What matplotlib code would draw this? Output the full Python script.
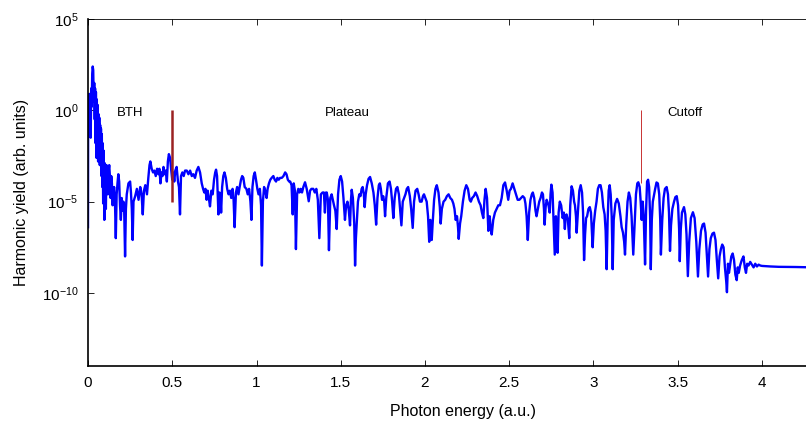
#!/usr/bin/env python

import numpy as np
import matplotlib
matplotlib.use('Agg')
import matplotlib.pyplot as plt

plt.rcParams['font.family'] = ['Liberation Sans', 'DejaVu Sans']
plt.rcParams['mathtext.fontset'] = 'custom'
plt.rcParams['mathtext.rm'] = 'Liberation Sans'
plt.rcParams['mathtext.default'] = 'regular'

# HHG spectrum: photon energy (a.u.) and log10 of the yield
energy = [
    0.000, 0.001, 0.004, 0.007, 0.010, 0.013, 0.016, 0.019, 0.022, 0.025, 0.028, 0.031, 0.034, 0.037,
    0.040, 0.042, 0.045, 0.047, 0.050, 0.052, 0.055, 0.057, 0.060, 0.062, 0.065, 0.067, 0.070, 0.072,
    0.075, 0.077, 0.080, 0.082, 0.085, 0.087, 0.090, 0.092, 0.095, 0.097, 0.100, 0.103, 0.106, 0.110,
    0.114, 0.118, 0.122, 0.126, 0.130, 0.134, 0.138, 0.142, 0.146, 0.150, 0.155, 0.160, 0.165, 0.170,
    0.175, 0.180, 0.185, 0.190, 0.195, 0.200, 0.205, 0.210, 0.215, 0.220, 0.225, 0.230, 0.240, 0.250,
    0.255, 0.260, 0.265, 0.270, 0.280, 0.290, 0.300, 0.310, 0.318, 0.325, 0.332, 0.340, 0.350, 0.358,
    0.365, 0.370, 0.378, 0.386, 0.394, 0.402, 0.410, 0.418, 0.424, 0.430, 0.436, 0.442, 0.448, 0.455,
    0.462, 0.468, 0.474, 0.480, 0.487, 0.493, 0.500, 0.506, 0.512, 0.518, 0.526, 0.534, 0.540, 0.546,
    0.552, 0.560, 0.568, 0.576, 0.586, 0.596, 0.606, 0.616, 0.625, 0.635, 0.645, 0.655, 0.665, 0.675,
    0.683, 0.690, 0.697, 0.704, 0.710, 0.717, 0.724, 0.732, 0.740, 0.748, 0.755, 0.760, 0.766, 0.774,
    0.780, 0.786, 0.790, 0.796, 0.803, 0.810, 0.818, 0.826, 0.834, 0.842, 0.850, 0.858, 0.864, 0.870,
    0.878, 0.885, 0.893, 0.900, 0.908, 0.915, 0.922, 0.930, 0.940, 0.948, 0.956, 0.964, 0.970, 0.976,
    0.983, 0.990, 0.997, 1.005, 1.012, 1.020, 1.027, 1.032, 1.038, 1.045, 1.052, 1.060, 1.066, 1.074,
    1.082, 1.090, 1.100, 1.108, 1.116, 1.124, 1.132, 1.140, 1.150, 1.160, 1.170, 1.178, 1.186, 1.194,
    1.200, 1.208, 1.215, 1.221, 1.228, 1.234, 1.241, 1.248, 1.255, 1.262, 1.270, 1.278, 1.288, 1.298,
    1.310, 1.318, 1.326, 1.337, 1.346, 1.355, 1.364, 1.373, 1.382, 1.392, 1.400, 1.406, 1.412, 1.417,
    1.424, 1.430, 1.438, 1.446, 1.453, 1.460, 1.468, 1.476, 1.484, 1.492, 1.500, 1.508, 1.516, 1.525,
    1.532, 1.540, 1.548, 1.555, 1.560, 1.565, 1.572, 1.580, 1.585, 1.590, 1.596, 1.602, 1.610, 1.617,
    1.624, 1.630, 1.637, 1.642, 1.648, 1.656, 1.665, 1.674, 1.684, 1.694, 1.702, 1.710, 1.718, 1.726,
    1.732, 1.738, 1.745, 1.752, 1.758, 1.763, 1.770, 1.780, 1.790, 1.798, 1.805, 1.812, 1.820, 1.828,
    1.836, 1.845, 1.852, 1.860, 1.868, 1.876, 1.884, 1.892, 1.900, 1.910, 1.918, 1.927, 1.935, 1.944,
    1.954, 1.962, 1.970, 1.980, 1.988, 1.994, 2.002, 2.010, 2.018, 2.025, 2.032, 2.040, 2.046, 2.054,
    2.062, 2.070, 2.080, 2.088, 2.093, 2.100, 2.110, 2.120, 2.130, 2.140, 2.150, 2.160, 2.168, 2.175,
    2.182, 2.190, 2.196, 2.200, 2.208, 2.215, 2.225, 2.235, 2.245, 2.255, 2.265, 2.272, 2.280, 2.290,
    2.300, 2.310, 2.320, 2.330, 2.338, 2.346, 2.353, 2.360, 2.368, 2.376, 2.384, 2.390, 2.396, 2.405,
    2.415, 2.425, 2.435, 2.445, 2.455, 2.465, 2.475, 2.485, 2.494, 2.502, 2.510, 2.520, 2.530, 2.540,
    2.550, 2.560, 2.570, 2.580, 2.590, 2.596, 2.603, 2.610, 2.618, 2.626, 2.634, 2.640, 2.648, 2.656,
    2.662, 2.670, 2.678, 2.686, 2.694, 2.700, 2.706, 2.710, 2.716, 2.722, 2.726, 2.733, 2.740, 2.745,
    2.750, 2.757, 2.763, 2.770, 2.777, 2.782, 2.787, 2.793, 2.800, 2.808, 2.817, 2.824, 2.830, 2.835,
    2.840, 2.848, 2.856, 2.862, 2.870, 2.878, 2.885, 2.890, 2.896, 2.900, 2.908, 2.916, 2.924, 2.932,
    2.938, 2.944, 2.950, 2.956, 2.962, 2.970, 2.978, 2.985, 2.990, 2.995, 3.002, 3.010, 3.018, 3.026,
    3.034, 3.042, 3.050, 3.058, 3.066, 3.072, 3.078, 3.084, 3.090, 3.096, 3.102, 3.108, 3.114, 3.120,
    3.130, 3.140, 3.150, 3.160, 3.167, 3.175, 3.182, 3.187, 3.194, 3.202, 3.210, 3.218, 3.226, 3.236,
    3.244, 3.252, 3.260, 3.266, 3.274, 3.280, 3.286, 3.292, 3.298, 3.306, 3.312, 3.318, 3.324, 3.330,
    3.336, 3.340, 3.346, 3.352, 3.358, 3.366, 3.374, 3.382, 3.390, 3.396, 3.400, 3.408, 3.416, 3.424,
    3.434, 3.442, 3.448, 3.454, 3.460, 3.468, 3.478, 3.486, 3.494, 3.502, 3.508, 3.512, 3.518, 3.525,
    3.537, 3.545, 3.552, 3.560, 3.568, 3.578, 3.590, 3.600, 3.610, 3.620, 3.628, 3.638, 3.648, 3.656,
    3.665, 3.672, 3.680, 3.688, 3.696, 3.706, 3.715, 3.724, 3.732, 3.740, 3.748, 3.756, 3.764, 3.772,
    3.780, 3.788, 3.792, 3.798, 3.804, 3.810, 3.818, 3.826, 3.834, 3.842, 3.850, 3.856, 3.862, 3.870,
    3.880, 3.890, 3.898, 3.905, 3.912, 3.920, 3.930, 3.940, 3.950, 3.960, 3.970, 3.980, 3.990, 4.000,
    4.050, 4.100, 4.200, 4.300,
]

log_yield = [
    -6.4, 0.7, -0.8, 0.9, -1.0, 0.3, -1.5, 1.2, 0.2, 2.0, 2.4, 2.2, 0.5, 1.5,
    -0.5, 1.2, -1.8, 1.0, -2.6, 0.6, -1.5, 0.3, -2.8, -0.2, -1.9, -0.4, -3.0, -0.8,
    -2.4, -1.0, -3.6, -1.3, -4.2, -1.8, -5.1, -2.2, -3.8, -6.0, -2.9, -3.4, -5.4, -3.0,
    -3.2, -4.6, -3.3, -3.0, -3.6, -4.8, -3.6, -4.0, -5.2, -4.5, -4.2, -5.0, -7.0, -4.6,
    -4.0, -3.5, -3.9, -5.2, -6.0, -4.8, -5.5, -5.0, -5.6, -8.0, -5.4, -4.6, -4.0, -3.9,
    -4.5, -5.4, -7.1, -5.0, -4.7, -4.3, -4.9, -4.2, -4.6, -5.7, -4.4, -4.1, -4.6, -3.7,
    -3.0, -2.8, -3.2, -3.4, -3.3, -3.6, -3.2, -3.5, -3.2, -4.0, -3.4, -3.6, -3.1, -3.5,
    -3.3, -3.9, -2.8, -2.4, -2.6, -3.2, -3.8, -3.4, -3.9, -3.3, -3.1, -3.9, -4.2, -5.7,
    -3.6, -3.4, -3.6, -3.3, -3.3, -3.5, -3.3, -3.6, -3.5, -3.7, -3.3, -3.1, -3.4, -4.0,
    -4.3, -4.5, -4.3, -4.9, -4.4, -4.8, -5.26, -4.4, -4.6, -3.8, -3.4, -3.25, -3.6, -5.7,
    -4.5, -4.8, -5.6, -4.2, -3.6, -3.4, -3.7, -4.3, -4.6, -4.4, -4.8, -4.3, -4.9, -6.4,
    -4.5, -4.2, -4.6, -4.2, -3.8, -3.6, -3.7, -4.2, -4.3, -4.6, -4.3, -5.0, -6.0, -4.2,
    -3.6, -3.4, -3.8, -4.3, -4.6, -4.3, -5.2, -8.5, -5.0, -4.2, -4.4, -4.8, -4.3, -4.0,
    -3.8, -3.7, -3.6, -3.8, -3.9, -3.7, -3.8, -3.7, -3.7, -3.6, -3.4, -3.5, -3.8, -3.9,
    -3.9, -4.1, -5.7, -4.0, -4.4, -7.6, -4.6, -4.3, -4.5, -4.3, -4.5, -4.2, -3.94, -4.3,
    -4.98, -4.4, -4.3, -4.3, -4.5, -4.3, -4.9, -7.0, -4.6, -4.5, -4.5, -5.6, -4.5, -4.5,
    -4.9, -7.66, -4.8, -4.6, -4.9, -5.2, -5.5, -6.5, -4.6, -3.8, -3.6, -3.9, -4.8, -6.0,
    -5.2, -5.0, -5.5, -6.3, -5.0, -4.35, -4.8, -6.2, -8.5, -7.0, -6.0, -5.0, -4.6, -4.7,
    -4.3, -4.2, -4.6, -5.3, -4.6, -4.1, -3.75, -3.65, -4.0, -4.5, -5.2, -6.26, -4.8, -4.1,
    -4.0, -4.3, -4.9, -4.7, -5.0, -5.8, -4.8, -4.0, -3.9, -4.3, -5.0, -5.9, -4.8, -4.3,
    -4.2, -4.6, -5.4, -6.3, -5.0, -4.8, -4.6, -4.3, -4.2, -4.7, -5.4, -6.44, -5.0, -4.4,
    -4.3, -4.6, -5.0, -5.0, -4.7, -4.6, -4.8, -5.0, -5.8, -7.2, -6.0, -7.1, -6.1, -4.9,
    -4.3, -4.1, -4.5, -5.3, -6.2, -5.4, -5.0, -4.9, -4.7, -4.6, -4.8, -4.9, -5.1, -5.4,
    -6.0, -5.8, -6.4, -7.04, -6.2, -5.8, -5.0, -4.4, -4.1, -4.3, -4.9, -5.0, -4.8, -4.7,
    -4.5, -4.7, -5.0, -5.2, -5.6, -5.9, -4.9, -4.3, -4.8, -6.6, -5.8, -6.5, -6.8, -6.0,
    -5.6, -5.4, -5.2, -5.2, -4.8, -4.1, -3.95, -4.4, -4.9, -4.4, -4.3, -4.0, -4.3, -4.6,
    -4.9, -4.9, -4.8, -4.7, -4.8, -5.1, -5.8, -7.1, -5.6, -4.9, -4.6, -4.5, -4.8, -5.5,
    -5.8, -5.4, -5.0, -4.8, -4.5, -4.6, -5.4, -6.26, -5.3, -4.9, -5.0, -5.2, -5.6, -4.6,
    -4.07, -4.5, -6.0, -7.9, -5.8, -6.6, -7.8, -5.6, -5.0, -5.2, -5.9, -5.6, -6.5, -5.8,
    -5.7, -6.0, -7.0, -5.2, -4.16, -4.4, -5.0, -5.2, -5.8, -6.7, -5.5, -4.4, -4.1, -4.5,
    -5.6, -8.2, -6.8, -5.9, -5.8, -5.4, -5.3, -5.6, -6.5, -7.5, -6.2, -5.5, -5.0, -4.3,
    -4.1, -4.1, -4.5, -5.3, -5.7, -6.6, -8.7, -6.0, -4.4, -4.1, -4.6, -5.8, -8.7, -6.0,
    -5.1, -4.85, -5.1, -5.8, -6.4, -6.7, -7.2, -7.9, -6.3, -5.0, -4.5, -4.8, -5.8, -7.9,
    -6.2, -4.6, -4.0, -3.94, -4.2, -5.0, -6.0, -5.0, -5.8, -8.44, -5.5, -3.9, -3.8, -4.2,
    -5.8, -8.7, -6.0, -5.0, -4.7, -4.3, -3.95, -4.0, -4.6, -6.0, -7.9, -6.0, -4.8, -4.3,
    -4.2, -4.6, -5.6, -7.7, -6.3, -5.4, -5.0, -4.75, -4.7, -5.2, -6.5, -8.26, -6.5, -5.6,
    -5.3, -5.7, -6.8, -9.08, -7.2, -5.9, -5.58, -5.9, -7.2, -9.1, -7.6, -6.6, -6.25, -6.2,
    -6.7, -7.8, -9.1, -7.6, -7.0, -6.75, -6.7, -7.1, -8.2, -9.2, -8.0, -7.6, -7.35, -7.5,
    -8.6, -9.4, -9.96, -8.4, -8.9, -8.5, -8.0, -7.84, -8.2, -9.0, -9.3, -8.6, -8.9, -8.5,
    -8.2, -8.0, -8.6, -8.9, -8.4, -8.5, -8.3, -8.45, -8.6, -8.4, -8.55, -8.45, -8.5, -8.52,
    -8.55, -8.57, -8.58, -8.6,
]

xticks = [0, 0.5, 1, 1.5, 2, 2.5, 3, 3.5, 4]
xtick_labels = ['0', '0.5', '1', '1.5', '2', '2.5', '3', '3.5', '4']
yticks = [1e5, 1e0, 1e-5, 1e-10]
ytick_labels = ['$10^{5}$', '$10^{0}$', '$10^{-5}$', '$10^{-10}$']

# marker lines and region labels
bth_line = (0.5, 1e-5, 1e0)
cutoff_line = (3.28, 1e-4, 1e0)
region_names = ['BTH', 'Plateau', 'Cutoff']
region_x = [0.25, 1.54, 3.54]
region_y = 10**-0.15

E = np.array(energy)
Y = 10.0**np.array(log_yield)

fig = plt.figure(figsize=(8.06, 4.25), dpi=100)
ax = fig.add_axes([88/806, 59/425, 4.45*168.5/806, 347/425])

ax.semilogy(E, Y, color=(0, 0, 1), linewidth=1.7)
ax.vlines(bth_line[0], bth_line[1], bth_line[2], color='#9b2222', linewidth=1.8)
ax.vlines(cutoff_line[0], cutoff_line[1], cutoff_line[2], color='#c83232', linewidth=0.7)

for name, xr in zip(region_names, region_x):
    ax.text(xr, region_y, name, ha='center', va='center', fontsize=9.5)

ax.set_xlim(0, 4.45)
ax.set_ylim(1e-14, 1e5)
ax.set_xticks(xticks)
ax.set_xticklabels(xtick_labels)
ax.set_yticks(yticks)
ax.set_yticklabels(ytick_labels)
ax.minorticks_off()
ax.tick_params(direction='in', top=True, right=False, labelsize=11, length=4, width=0.6, pad=7)

for side in ['left', 'bottom']:
    ax.spines[side].set_linewidth(1.2)
ax.spines['top'].set_linewidth(0.6)
ax.spines['right'].set_visible(False)

ax.set_xlabel('Photon energy (a.u.)', fontsize=11.5, labelpad=10)
ax.set_ylabel('Harmonic yield (arb. units)', fontsize=11.5, labelpad=9)

plt.savefig('out.png', dpi=100)
